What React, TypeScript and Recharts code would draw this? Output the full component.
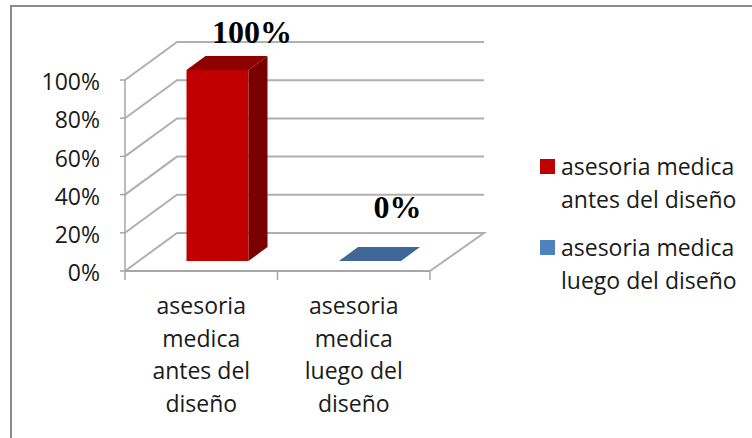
import React from "react";
import { BarChart, Bar, XAxis, YAxis, CartesianGrid, Cell, LabelList, Legend } from "recharts";

const categories = ["asesoria medica antes del diseño", "asesoria medica luego del diseño"];
const values = [100, 0];
const yTicks = [0, 20, 40, 60, 80, 100];
const categoryLines = [
  ["asesoria", "medica", "antes del", "diseño"],
  ["asesoria", "medica", "luego del", "diseño"],
];
const legendLines = [
  ["asesoria medica", "antes del diseño"],
  ["asesoria medica", "luego del diseño"],
];
const faceColors = ["#C00000", "#3F6797"];
const sideColors = ["#7A0000", "#2F4D72"];
const topColors = ["#8E0000", "#3F6797"];
const legendColors = ["#C00000", "#4F81BD"];
const labelShift = [{ dx: 51, dy: -37 }, { dx: 44, dy: -53 }];

const data = categories.map((name, i) => ({ name, value: values[i] }));

const FONT = "'Open Sans', sans-serif";
const GRID = "#B0B0B0";
const AXIS = "#A6A6A6";
const TEXT = "#1a1a1a";
const WALL_DX = 52;
const WALL_DY = -38;
const FLOOR_RIGHT_DX = 54;
const BAR_DX = 16.5;
const BAR_DY = -10;
const DEPTH_DX = 19;
const DEPTH_DY = -14;

const GridLine = (p: any) => {
  const pts = [
    [p.x1, p.y1],
    [p.x1 + WALL_DX, p.y1 + WALL_DY],
    [p.x2 + FLOOR_RIGHT_DX, p.y1 + WALL_DY],
  ];
  if (p.y1 > 260) pts.push([p.x2, p.y1]);
  return (
    <polyline
      key={p.key}
      points={pts.map((q) => q.join(",")).join(" ")}
      fill="none"
      stroke={GRID}
      strokeWidth={2}
    />
  );
};

const Bar3D = (p: any) => {
  const i = p.index;
  const x = p.x + BAR_DX;
  const w = p.width;
  const top = p.y + BAR_DY;
  const bottom = p.y + p.height + BAR_DY;
  return (
    <g>
      {p.height > 0 && <rect x={x} y={top} width={w} height={p.height} fill={faceColors[i]} />}
      {p.height > 0 && (
        <polygon
          points={`${x + w},${top} ${x + w + DEPTH_DX},${top + DEPTH_DY} ${x + w + DEPTH_DX},${bottom + DEPTH_DY} ${x + w},${bottom}`}
          fill={sideColors[i]}
        />
      )}
      <polygon
        points={`${x},${top} ${x + DEPTH_DX},${top + DEPTH_DY} ${x + w + DEPTH_DX},${top + DEPTH_DY} ${x + w},${top}`}
        fill={topColors[i]}
      />
    </g>
  );
};

const CategoryTick = (p: any) => {
  const half = p.payload.offset;
  const lines = categoryLines[p.index] ?? [];
  const axisY = 271;
  return (
    <g>
      <line x1={p.x - half} x2={p.x - half} y1={axisY} y2={axisY + 9} stroke={AXIS} strokeWidth={1.5} />
      {p.index === categories.length - 1 && (
        <line x1={p.x + half} x2={p.x + half} y1={axisY} y2={axisY + 9} stroke={AXIS} strokeWidth={1.5} />
      )}
      <text textAnchor="middle" fontFamily={FONT} fontSize={23} fill={TEXT}>
        {lines.map((l, k) => (
          <tspan key={k} x={p.x} y={axisY + 43 + k * 32.7}>{l}</tspan>
        ))}
      </text>
    </g>
  );
};

const ValueLabel = (p: any) => {
  const s = labelShift[p.index];
  return (
    <text
      x={p.x + p.width / 2 + s.dx}
      y={p.y + s.dy}
      textAnchor="middle"
      fontFamily="'Liberation Serif', serif"
      fontWeight="bold"
      fontSize={32}
      fill="#000"
    >
      {p.value}%
    </text>
  );
};

const LegendBox = () => (
  <div style={{ fontFamily: FONT, fontSize: 23, lineHeight: "33px", color: TEXT }}>
    {legendLines.map((lines, i) => (
      <div key={i} style={{ position: "relative", paddingLeft: 21, marginBottom: i === 0 ? 15 : 0 }}>
        <span
          style={{
            position: "absolute",
            left: 0,
            top: 9,
            width: 15,
            height: 15,
            background: legendColors[i],
          }}
        />
        {lines.map((l, k) => (
          <div key={k} style={{ whiteSpace: "nowrap" }}>{l}</div>
        ))}
      </div>
    ))}
  </div>
);

export default function App() {
  return (
    <div style={{ position: "absolute", left: 0, top: 0, width: 752, height: 438, overflow: "hidden", background: "#fff" }}>
      <div
        style={{
          position: "absolute",
          left: 10,
          top: 5,
          width: 760,
          height: 450,
          borderLeft: "2px solid #8C8C8C",
          borderTop: "2px solid #8C8C8C",
        }}
      />
      <div style={{ position: "absolute", left: 0, top: 0 }}>
        <BarChart
          width={752}
          height={438}
          data={data}
          margin={{ top: 80, right: 112, bottom: 127, left: 0 }}
          barCategoryGap={0}
        >
          <CartesianGrid horizontal={GridLine as any} vertical={false} />
          <XAxis
            dataKey="name"
            stroke={AXIS}
            strokeWidth={2}
            tickLine={false}
            interval={0}
            tick={CategoryTick as any}
            height={40}
          />
          <YAxis
            domain={[0, 100]}
            ticks={yTicks}
            width={125}
            stroke={AXIS}
            strokeWidth={1.5}
            tickSize={5}
            tickMargin={20}
            tickFormatter={(v: number) => `${v}%`}
            tick={{ fontFamily: FONT, fontSize: 23, fill: TEXT, dy: 2 }}
          />
          <Legend
            layout="vertical"
            align="right"
            verticalAlign="top"
            width={210}
            content={LegendBox as any}
            wrapperStyle={{ left: 540, top: 150, right: "auto", width: 210 }}
          />
          <Bar dataKey="value" barSize={62} isAnimationActive={false} shape={Bar3D as any}>
            {data.map((d, i) => (
              <Cell key={d.name} fill={faceColors[i]} />
            ))}
            <LabelList dataKey="value" content={ValueLabel as any} />
          </Bar>
        </BarChart>
      </div>
    </div>
  );
}
